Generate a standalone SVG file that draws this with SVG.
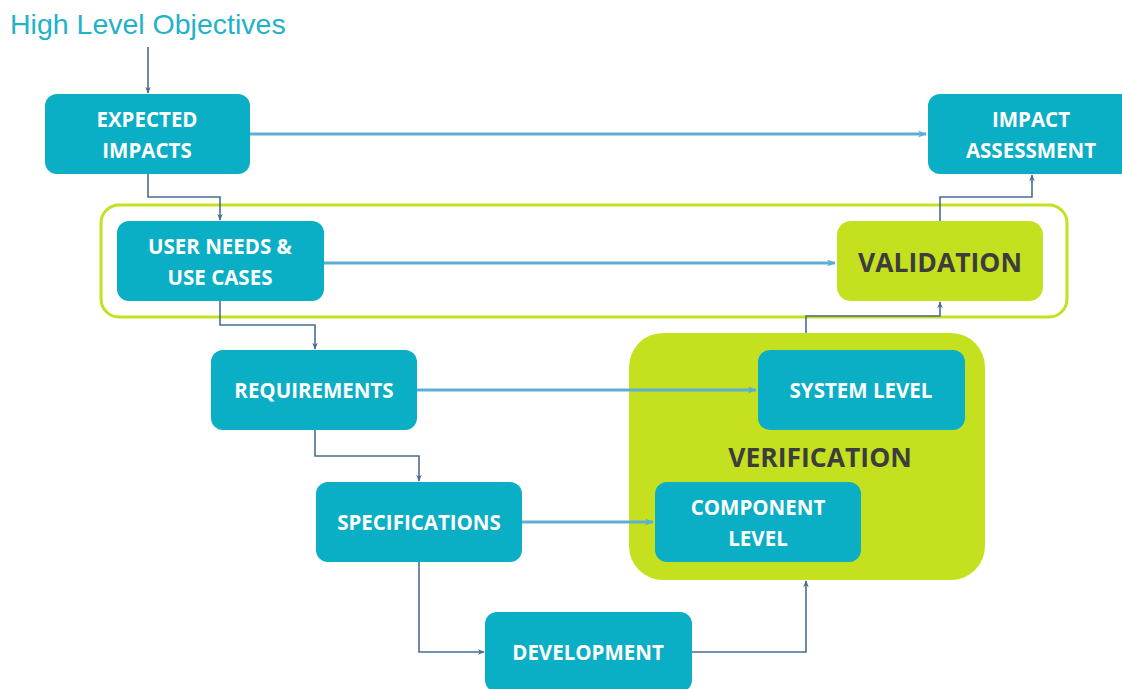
<svg xmlns="http://www.w3.org/2000/svg" width="1122" height="689" viewBox="0 0 1122 689">
<defs>
<marker id="ad" viewBox="0 0 10 10" refX="9" refY="5" markerWidth="7" markerHeight="7" markerUnits="userSpaceOnUse" orient="auto"><path d="M0,1 L10,5 L0,9 L3,5 Z" fill="#4a6d91"/></marker>
<marker id="al" viewBox="0 0 10 10" refX="9" refY="5" markerWidth="9" markerHeight="9" markerUnits="userSpaceOnUse" orient="auto"><path d="M0,1 L10,5 L0,9 L3,5 Z" fill="#5aafd3"/></marker>
<style>
.box{fill:#0aaec5}
.lime{fill:#c5e01f}
.t{font-family:"Open Sans","Liberation Sans",sans-serif;font-weight:bold;font-size:20.5px;fill:#ffffff;text-anchor:middle}
.d{font-family:"Open Sans","Liberation Sans",sans-serif;font-weight:bold;font-size:26.5px;fill:#3d3d3d;text-anchor:middle}
.c{fill:none;stroke:#4a6d91;stroke-width:1.6}
.h{fill:none;stroke:#5aafd3;stroke-width:3}
</style>
</defs>
<rect width="1122" height="689" fill="#ffffff"/>
<text x="10" y="34" font-family="Liberation Sans, Arial, sans-serif" font-size="28.5" fill="#22b2c8">High Level Objectives</text>

<g id="validation-group">
<rect x="101" y="205" width="966" height="112" rx="18" fill="none" stroke="#c5e01f" stroke-width="3"/>
</g>
<g id="verification">
<rect class="lime" x="629" y="333" width="356" height="247" rx="34"/>
<text class="d" x="820" y="467">VERIFICATION</text>
</g>

<g id="connectors">
<path class="c" d="M148,47 V93" marker-end="url(#ad)"/>
<path class="c" d="M148,174 V197 H220 V220" marker-end="url(#ad)"/>
<path class="c" d="M220,301 V325 H315 V349" marker-end="url(#ad)"/>
<path class="c" d="M315,430 V456 H419 V481" marker-end="url(#ad)"/>
<path class="c" d="M419,562 V652 H484" marker-end="url(#ad)"/>
<path class="c" d="M692,652 H806 V581" marker-end="url(#ad)"/>
<path class="c" d="M806,333 V316 H940 V302" marker-end="url(#ad)"/>
<path class="c" d="M940,221 V197 H1032 V175" marker-end="url(#ad)"/>
<path class="h" d="M250,134 H926" marker-end="url(#al)"/>
<path class="h" d="M324,263 H835" marker-end="url(#al)"/>
<path class="h" d="M417,390 H756" marker-end="url(#al)"/>
<path class="h" d="M522,522 H653" marker-end="url(#al)"/>
</g>

<g id="expected-impacts">
<rect class="box" x="45" y="94" width="205" height="80" rx="12"/>
<text class="t" x="147" y="127">EXPECTED</text>
<text class="t" x="147" y="158">IMPACTS</text>
</g>
<g id="impact-assessment">
<rect class="box" x="928" y="94" width="210" height="80" rx="12"/>
<text class="t" x="1031" y="127">IMPACT</text>
<text class="t" x="1031" y="158">ASSESSMENT</text>
</g>
<g id="user-needs">
<rect class="box" x="117" y="221" width="207" height="80" rx="12"/>
<text class="t" x="220" y="254">USER NEEDS &amp;</text>
<text class="t" x="220" y="285">USE CASES</text>
</g>
<g id="validation">
<rect class="lime" x="837" y="221" width="206" height="80" rx="14"/>
<text class="d" x="940" y="272">VALIDATION</text>
</g>
<g id="requirements">
<rect class="box" x="211" y="350" width="206" height="80" rx="12"/>
<text class="t" x="314" y="398">REQUIREMENTS</text>
</g>
<g id="system-level">
<rect class="box" x="758" y="350" width="207" height="80" rx="12"/>
<text class="t" x="861" y="398">SYSTEM LEVEL</text>
</g>
<g id="specifications">
<rect class="box" x="316" y="482" width="206" height="80" rx="12"/>
<text class="t" x="419" y="530">SPECIFICATIONS</text>
</g>
<g id="component-level">
<rect class="box" x="655" y="482" width="206" height="80" rx="12"/>
<text class="t" x="758" y="515">COMPONENT</text>
<text class="t" x="758" y="546">LEVEL</text>
</g>
<g id="development">
<rect class="box" x="485" y="612" width="207" height="80" rx="12"/>
<text class="t" x="588" y="660">DEVELOPMENT</text>
</g>
</svg>
